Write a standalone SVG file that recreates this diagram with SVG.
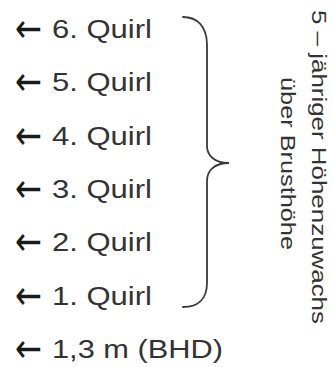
<svg xmlns="http://www.w3.org/2000/svg" width="334" height="367" viewBox="0 0 334 367">
<style>
.lbl{font-family:"Liberation Sans",Arial,sans-serif;font-size:25px;fill:#333333}
.arr{font-family:"DejaVu Sans",sans-serif;font-size:40px;fill:#1a1a1a}
.rot{font-family:"Liberation Sans",Arial,sans-serif;font-size:20px;fill:#333333}
.brace{fill:none;stroke:#3a3a3a;stroke-width:1.8;stroke-linecap:round}
</style>
<rect width="334" height="367" fill="#ffffff"/>
<g id="quirl6"><text class="arr" x="15" y="42" textLength="27" lengthAdjust="spacingAndGlyphs">←</text><text class="lbl" x="52" y="38" textLength="100" lengthAdjust="spacingAndGlyphs">6. Quirl</text></g>
<g id="quirl5"><text class="arr" x="15" y="95.3" textLength="27" lengthAdjust="spacingAndGlyphs">←</text><text class="lbl" x="52" y="91.3" textLength="100" lengthAdjust="spacingAndGlyphs">5. Quirl</text></g>
<g id="quirl4"><text class="arr" x="15" y="148.7" textLength="27" lengthAdjust="spacingAndGlyphs">←</text><text class="lbl" x="52" y="144.7" textLength="100" lengthAdjust="spacingAndGlyphs">4. Quirl</text></g>
<g id="quirl3"><text class="arr" x="15" y="202" textLength="27" lengthAdjust="spacingAndGlyphs">←</text><text class="lbl" x="52" y="198" textLength="100" lengthAdjust="spacingAndGlyphs">3. Quirl</text></g>
<g id="quirl2"><text class="arr" x="15" y="255.3" textLength="27" lengthAdjust="spacingAndGlyphs">←</text><text class="lbl" x="52" y="251.3" textLength="100" lengthAdjust="spacingAndGlyphs">2. Quirl</text></g>
<g id="quirl1"><text class="arr" x="15" y="308.7" textLength="27" lengthAdjust="spacingAndGlyphs">←</text><text class="lbl" x="52" y="304.7" textLength="100" lengthAdjust="spacingAndGlyphs">1. Quirl</text></g>
<g id="bhd"><text class="arr" x="15" y="362" textLength="27" lengthAdjust="spacingAndGlyphs">←</text><text class="lbl" x="52" y="358" textLength="171" lengthAdjust="spacingAndGlyphs">1,3 m (BHD)</text></g>
<g id="connectors">
<path class="brace" d="M183,17 C197,17 207,26 207,45 L207,146 C207,156 215,163 229,163 C215,163 207,170 207,181 L207,283 C207,300 197,307 183,307"/>
</g>
<g id="label">
<text class="rot" transform="translate(312,10) rotate(90)" x="0" y="0" textLength="314" lengthAdjust="spacingAndGlyphs">5 – jähriger Höhenzuwachs</text>
<text class="rot" transform="translate(281,77) rotate(90)" x="0" y="0" textLength="173" lengthAdjust="spacingAndGlyphs">über Brusthöhe</text>
</g>
</svg>
